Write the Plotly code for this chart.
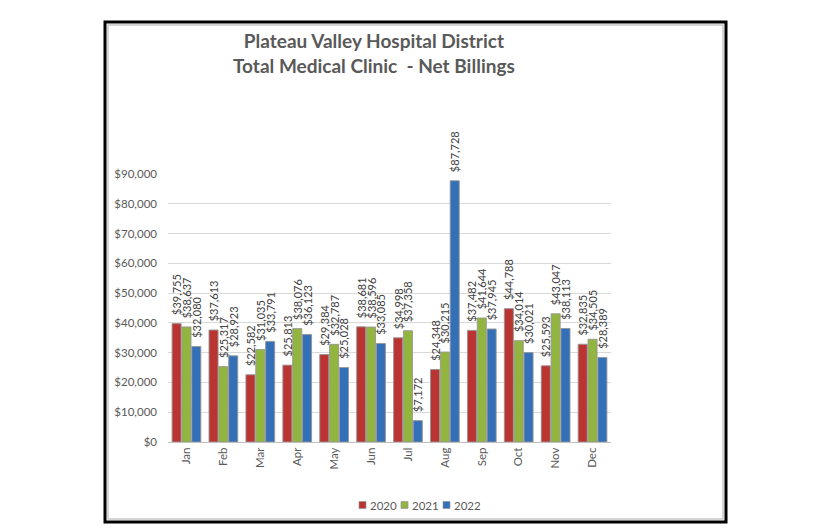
import plotly.graph_objects as go

months = ["Jan", "Feb", "Mar", "Apr", "May", "Jun", "Jul", "Aug", "Sep", "Oct", "Nov", "Dec"]
series_names = ["2020", "2021", "2022"]
vals_2020 = [39755, 37613, 22582, 25813, 29384, 38681, 34998, 24348, 37482, 44788, 25593, 32835]
vals_2021 = [38637, 25317, 31035, 38076, 32787, 38596, 37358, 30215, 41644, 34014, 43047, 34505]
vals_2022 = [32080, 28923, 33791, 36123, 25028, 33085, 7172, 87728, 37945, 30021, 38113, 28389]
colors = ["#BA3532", "#92B53F", "#3370B8"]
y_ticks = [0, 10000, 20000, 30000, 40000, 50000, 60000, 70000, 80000, 90000]
y_tick_labels = ["$0", "$10,000", "$20,000", "$30,000", "$40,000", "$50,000",
                 "$60,000", "$70,000", "$80,000", "$90,000"]

FONT = "Lato"
fig = go.Figure()
for name, vals, col in zip(series_names, [vals_2020, vals_2021, vals_2022], colors):
    fig.add_trace(go.Bar(
        x=months, y=vals, name=name,
        marker=dict(color=col, line=dict(color="rgba(150,150,150,0.9)", width=1)),
        texttemplate="\u00a0\u00a0$%{y:,.0f}", textposition="outside", textangle=-90,
        constraintext="none", cliponaxis=False,
        textfont=dict(family=FONT, size=11, color="#404040"),
        hoverinfo="skip", showlegend=False,
    ))

# plot area geometry (pixels) used to convert frame positions to paper coordinates
L, R, T, B = 160, 603, 166, 434
W, H = R - L, B - T
def px(x):
    return (x - L) / W
def py(y):
    return (B - y) / H

shapes = [
    dict(type="rect", xref="paper", yref="paper", x0=px(97), x1=px(718), y0=py(514), y1=py(14),
         line=dict(color="black", width=3), layer="above"),
    dict(type="rect", xref="paper", yref="paper", x0=px(100), x1=px(715), y0=py(511), y1=py(17),
         line=dict(color="#C8C8C8", width=1.5), layer="above"),
]
annotations = [dict(
    text="<b>Plateau Valley Hospital District<br>Total Medical Clinic  - Net Billings</b>",
    xref="paper", yref="paper", x=px(366), y=py(45), xanchor="center", yanchor="middle",
    showarrow=False, font=dict(family=FONT, size=19, color="#595959"), align="center",
)]
# compact legend (swatch + label) below the plot, like the original
for i, (name, col) in enumerate(zip(series_names, colors)):
    x0 = 351 + i * 42
    shapes.append(dict(type="rect", xref="paper", yref="paper",
                       x0=px(x0), x1=px(x0 + 7), y0=py(500.5), y1=py(493.5),
                       fillcolor=col, line=dict(color="rgba(150,150,150,0.9)", width=0.8)))
    annotations.append(dict(text=name, xref="paper", yref="paper", x=px(x0 + 9), y=py(497),
                            xanchor="left", yanchor="middle", showarrow=False,
                            font=dict(family=FONT, size=11.5, color="#595959")))

fig.update_layout(
    width=816, height=528,
    margin=dict(l=L, r=816 - R, t=T, b=528 - B),
    paper_bgcolor="white", plot_bgcolor="white",
    barmode="group", bargap=0.2, bargroupgap=0.08,
    font=dict(family=FONT, color="#595959"),
    showlegend=False,
    xaxis=dict(tickangle=-90, tickfont=dict(family=FONT, size=11.5, color="#595959"),
               showline=True, linecolor="#BFBFBF", linewidth=1, ticks="", showgrid=False),
    yaxis=dict(range=[0, 90000], tickvals=y_ticks, ticktext=y_tick_labels,
               tickfont=dict(family=FONT, size=11.5, color="#595959"),
               showgrid=True, gridcolor="#D9D9D9", gridwidth=1, zeroline=False,
               showline=False, ticks="", ticklen=0, ticklabelstandoff=10),
    annotations=annotations,
    shapes=shapes,
)
fig.write_html("out.html")
